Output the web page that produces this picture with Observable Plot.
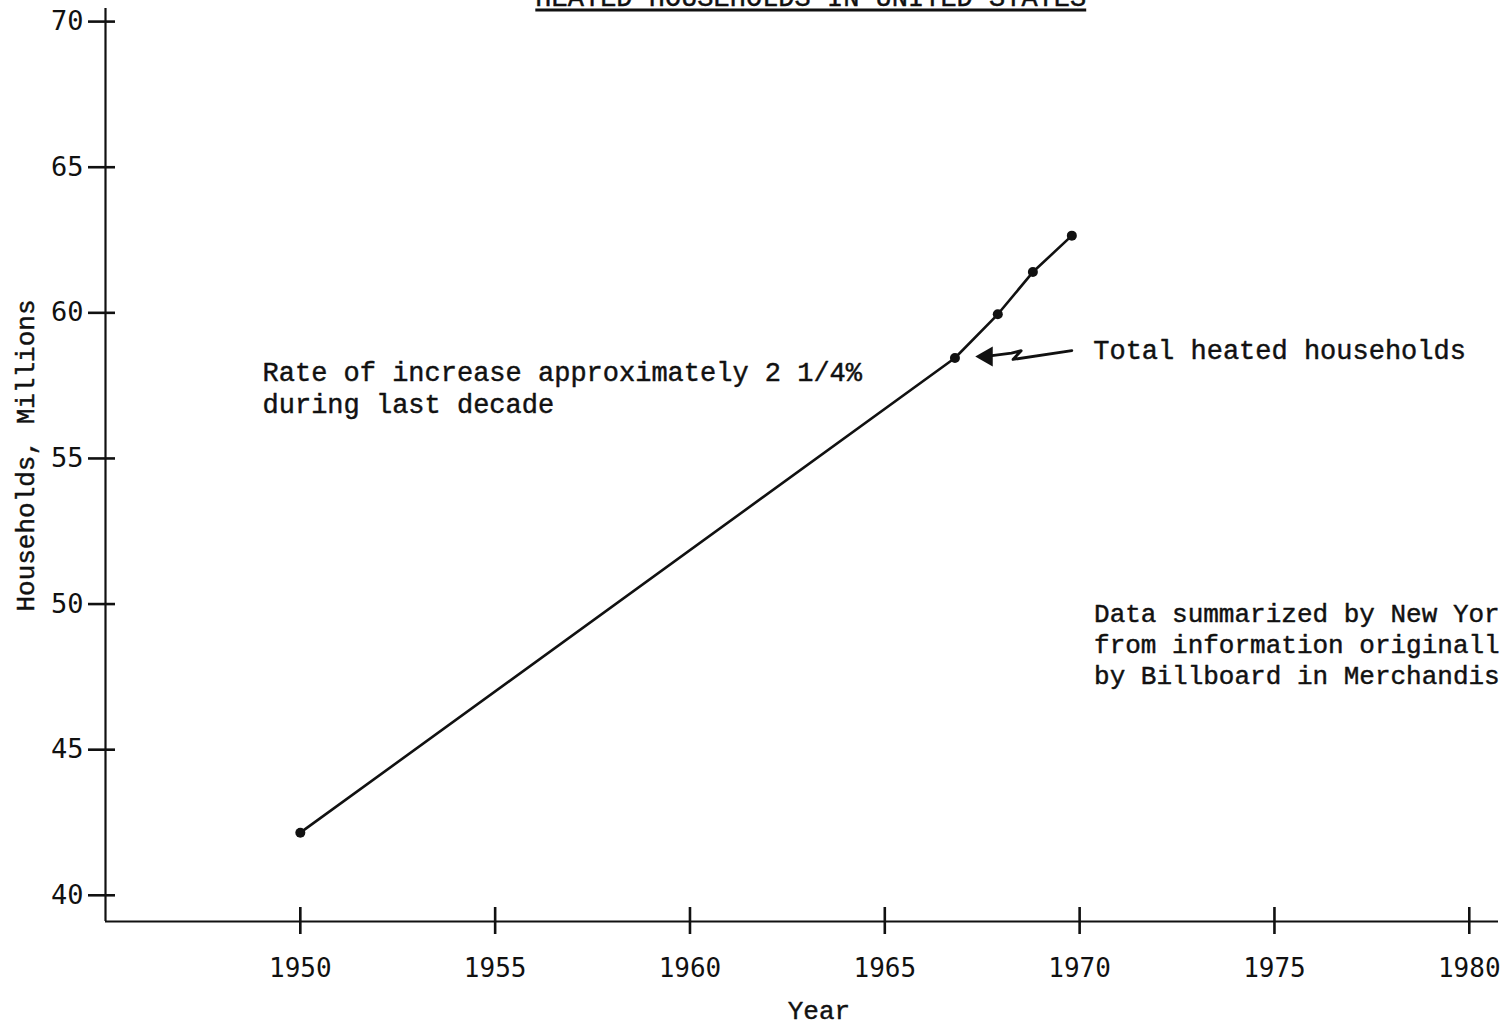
<!DOCTYPE html>
<html>
<head>
<meta charset="utf-8">
<script src="https://cdn.jsdelivr.net/npm/d3@7"></script>
<script src="https://cdn.jsdelivr.net/npm/@observablehq/plot@0.6"></script>
<style>
  html, body { margin: 0; padding: 0; background: #fff; overflow: hidden; }
  #chart svg { display: block; }
</style>
</head>
<body>
<div id="chart"></div>
<script>
// Data
const years = [1950, 1966.8, 1967.9, 1968.8, 1969.8];
const households = [42.15, 58.45, 59.95, 61.4, 62.65];
const xTicks = [1950, 1955, 1960, 1965, 1970, 1975, 1980];
const yTicks = [40, 45, 50, 55, 60, 65, 70];
const titleText = "HEATED HOUSEHOLDS IN UNITED STATES";
const noteRate = ["Rate of increase approximately 2 1/4%", "during last decade"];
const noteSeries = "Total heated households";
// the reference page is cut off at its right edge
const noteSource = ["Data summarized by New Yor", "from information originall", "by Billboard in Merchandis"];

const data = years.map((y, i) => ({year: y, value: households[i]}));

// callout squiggle (annotation path, in data units)
const callout = [
  {x: 1969.80, y: 58.70},
  {x: 1968.29, y: 58.40},
  {x: 1968.50, y: 58.70},
  {x: 1968.25, y: 58.62},
  {x: 1967.70, y: 58.52}
];

const typeFont = "Liberation Mono";
const tickFont = "DejaVu Sans Mono";
const ink = "#111";
const textInk = {fill: ink, stroke: ink, strokeWidth: 0.45};

const chart = Plot.plot({
  width: 1506,
  height: 1025,
  marginLeft: 105,
  marginRight: 8,
  marginTop: 8,
  marginBottom: 104,
  x: {domain: [1945, 1980.75]},
  y: {domain: [39.1, 70.45]},
  style: {background: "#fff", color: ink, fontFamily: typeFont},
  marks: [
    // axis lines
    Plot.ruleX([1945], {stroke: ink, strokeWidth: 2.2}),
    Plot.ruleY([39.1], {stroke: ink, strokeWidth: 2.2}),
    // crossing ticks
    Plot.ruleX(xTicks, {x: d => d, y1: 39.1, y2: 39.1, insetTop: -14, insetBottom: -13, stroke: ink, strokeWidth: 2.6}),
    Plot.ruleY(yTicks, {y: d => d, x1: 1945, x2: 1945, insetLeft: -17, insetRight: -10, stroke: ink, strokeWidth: 2.6}),
    // tick labels
    Plot.axisX({ticks: xTicks, tickSize: 0, tickPadding: 37, tickFormat: d => String(d), fontSize: 26, fontFamily: tickFont, label: null, ...textInk}),
    Plot.axisY({ticks: yTicks, tickSize: 0, tickPadding: 22, tickFormat: d => String(d), fontSize: 27, fontFamily: tickFont, label: null, ...textInk}),
    // axis titles
    Plot.text(["Households, Millions"], {y: 55.1, frameAnchor: "left", dx: -80, rotate: -90, textAnchor: "middle", lineAnchor: "middle", fontSize: 26, fontFamily: typeFont, ...textInk}),
    Plot.text(["Year"], {x: 1963.31, frameAnchor: "bottom", dy: 97, fontSize: 26, fontFamily: typeFont, ...textInk}),
    // title (cut off at top, as on the page)
    Plot.text([titleText], {x: 1963.1, frameAnchor: "top", lineAnchor: "bottom", dy: -3, fontSize: 27, fontFamily: typeFont, ...textInk}),
    // series
    Plot.line(data, {x: "year", y: "value", stroke: ink, strokeWidth: 2.6}),
    Plot.dot(data, {x: "year", y: "value", r: 5, fill: ink, stroke: "none"}),
    // callout
    Plot.line(callout, {x: "x", y: "y", stroke: ink, strokeWidth: 2.8, curve: "linear"}),
    Plot.dot([0], {x: 1967.62, y: 58.5, symbol: "triangle", rotate: -90, r: 7.5, fill: ink, stroke: "none"}),
    // notes
    Plot.text([noteRate.join("\n")], {x: 1949.03, y: 58.45, textAnchor: "start", lineAnchor: "top", lineHeight: 1.2, fontSize: 27, fontFamily: typeFont, ...textInk}),
    Plot.text([noteSeries], {x: 1970.35, y: 58.72, textAnchor: "start", lineAnchor: "middle", fontSize: 27, fontFamily: typeFont, ...textInk}),
    Plot.text([noteSource.join("\n")], {x: 1970.37, y: 50.15, textAnchor: "start", lineAnchor: "top", lineHeight: 1.2, fontSize: 26, fontFamily: typeFont, ...textInk})
  ]
});

document.getElementById("chart").appendChild(chart);

// underline the title
const svg = d3.select(chart);
const t = svg.selectAll("text").filter(function () { return this.textContent === titleText; }).node();
if (t) {
  const r = t.getBoundingClientRect();
  const s = chart.getBoundingClientRect();
  svg.append("line")
    .attr("x1", r.left - s.left).attr("x2", r.right - s.left)
    .attr("y1", 10).attr("y2", 10)
    .attr("stroke", ink).attr("stroke-width", 3);
}
</script>
</body>
</html>
